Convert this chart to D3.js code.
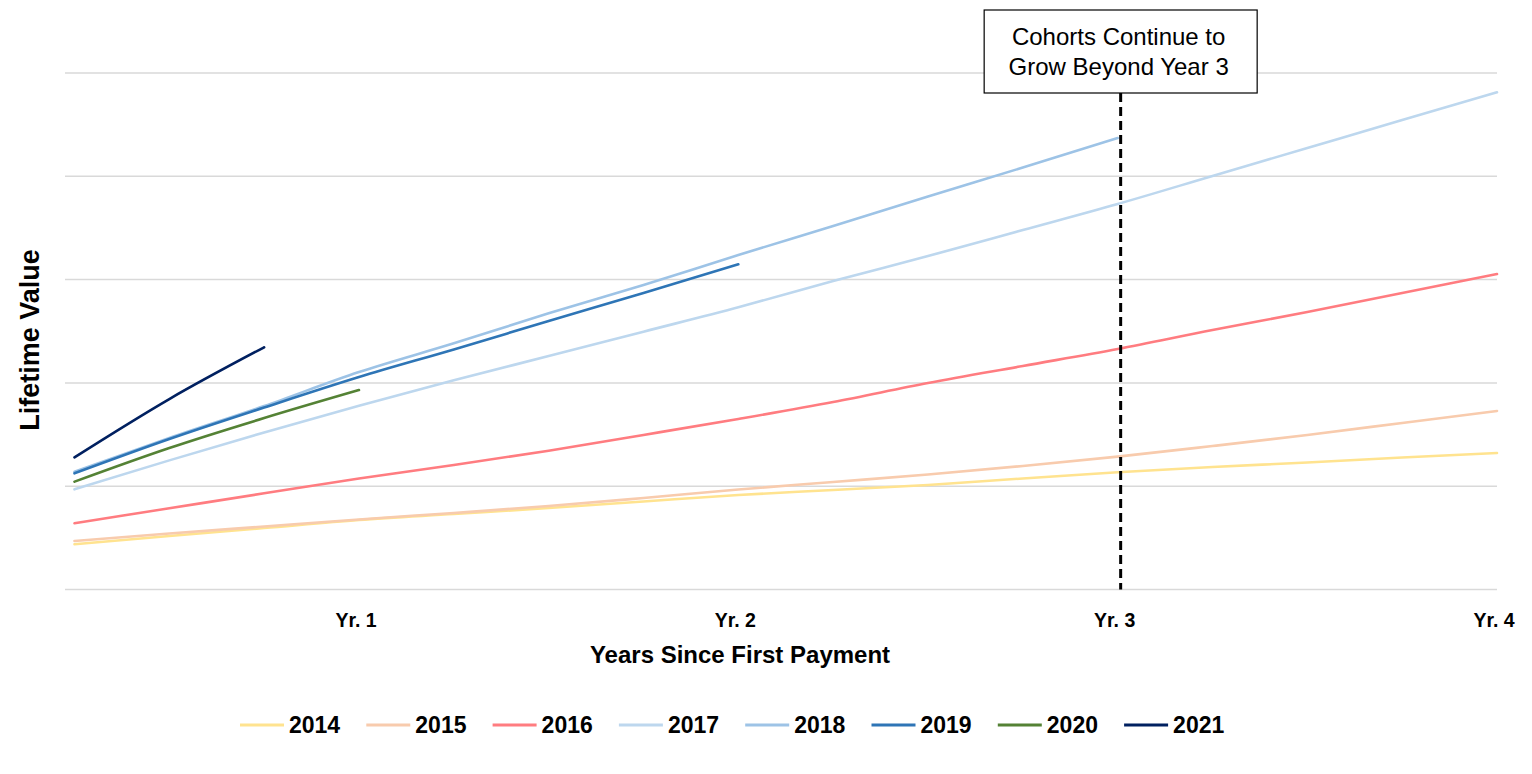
<!DOCTYPE html>
<html>
<head>
<meta charset="utf-8">
<script src="https://cdn.jsdelivr.net/npm/d3@7"></script>
<style>
  html, body { margin: 0; padding: 0; background: #fff; }
  svg { display: block; }
  text { font-family: "Liberation Sans", Arial, sans-serif; }
</style>
</head>
<body>
<div id="chart"></div>
<script>
// cohort lifetime value curves (months since first payment)
var months = [3, 6, 9, 12, 15, 18, 21, 24, 27, 30, 33, 36, 39, 42, 45, 48];
var cohorts = ["2014", "2015", "2016", "2017", "2018", "2019", "2020", "2021"];
var colors = ["#FFE38F", "#F8CBAD", "#FF7C80", "#BDD7EE", "#9DC3E6", "#2E75B6", "#548235", "#002060"];
var v2014 = [43.8, 51.8, 59.5, 67.3, 73.1, 78.9, 85.2, 91.5, 96.3, 101.2, 107.5, 113.5, 118.6, 122.9, 127.8, 132.1];
var v2015 = [47.0, 54.2, 61.0, 67.8, 74.1, 80.8, 88.6, 96.8, 104.1, 111.3, 119.6, 128.6, 138.9, 149.6, 161.2, 172.8];
var v2016 = [64.1, 78.6, 93.1, 107.5, 120.5, 134.4, 149.6, 165.1, 181.5, 199.9, 216.4, 232.8, 251.2, 268.6, 287.0, 305.4];
var v2017 = [97.0, 125.0, 152.0, 178.0, 202.5, 226.0, 249.6, 273.2, 298.6, 322.8, 348.0, 373.2, 400.3, 427.4, 454.5, 481.3];
var v2018 = [114.0, 146.7, 177.6, 210.5, 238.3, 267.4, 294.8, 323.8, 351.9, 380.4, 408.5, 437.1];
var v2019 = [112.5, 145.7, 176.2, 205.7, 232.4, 259.9, 287.0, 314.8];
var v2020 = [104.4, 137.0, 166.0, 193.1];
var v2021 = [128.0, 184.4, 234.5];
var yGrid = [0, 100, 200, 300, 400, 500];
var xTicks = [12, 24, 36, 48];
var xTickLabels = ["Yr. 1", "Yr. 2", "Yr. 3", "Yr. 4"];
var markerMonth = 36;
var noteLines = ["Cohorts Continue to", "Grow Beyond Year 3"];

(function () {
  "use strict";
  var W = 1532, H = 774;
  var series = [v2014, v2015, v2016, v2017, v2018, v2019, v2020, v2021].map(function (vals, i) {
    return { name: cohorts[i], color: colors[i], pts: vals.map(function (v, j) { return [months[j], v]; }) };
  });

  var svg = d3.select("#chart").append("svg").attr("width", W).attr("height", H);
  var x = d3.scaleLinear().domain([2.7, 48]).range([65, 1497]);
  var y = d3.scaleLinear().domain([0, 500]).range([589.5, 73]);

  // gridlines
  svg.append("g").selectAll("line").data(yGrid).enter().append("line")
    .attr("x1", x.range()[0]).attr("x2", x.range()[1])
    .attr("y1", function (d) { return y(d); }).attr("y2", function (d) { return y(d); })
    .attr("stroke", "#d9d9d9").attr("stroke-width", 1.5);

  // x tick labels (no tick marks)
  svg.append("g").selectAll("text").data(xTicks).enter().append("text")
    .attr("x", function (d) { return x(d); }).attr("dx", -3).attr("y", 627)
    .attr("text-anchor", "middle").attr("font-size", 19.5).attr("font-weight", "bold").attr("fill", "#000")
    .text(function (d, i) { return xTickLabels[i]; });

  // axis titles
  svg.append("text").attr("x", 740).attr("y", 663).attr("text-anchor", "middle")
    .attr("font-size", 24).attr("font-weight", "bold").attr("fill", "#000").text("Years Since First Payment");
  svg.append("text").attr("transform", "translate(39,340) rotate(-90)").attr("text-anchor", "middle")
    .attr("font-size", 27).attr("font-weight", "bold").attr("fill", "#000").text("Lifetime Value");

  // cohort lines
  var line = d3.line().x(function (d) { return x(d[0]); }).y(function (d) { return y(d[1]); }).curve(d3.curveMonotoneX);
  svg.append("g").selectAll("path").data(series).enter().append("path")
    .attr("d", function (d) { return line(d.pts); })
    .attr("fill", "none").attr("stroke", function (d) { return d.color; })
    .attr("stroke-width", 2.6).attr("stroke-linecap", "round");

  // year-3 marker + note box
  var mx = x(markerMonth) + 3;
  var boxW = 273, boxH = 83, boxTop = 10;
  svg.append("line").attr("x1", mx).attr("x2", mx).attr("y1", boxTop + boxH).attr("y2", y(0))
    .attr("stroke", "#000").attr("stroke-width", 3).attr("stroke-dasharray", "9,5");
  svg.append("rect").attr("x", mx - boxW / 2).attr("y", boxTop).attr("width", boxW).attr("height", boxH)
    .attr("fill", "#fff").attr("stroke", "#000").attr("stroke-width", 1.2);
  svg.append("g").selectAll("text").data(noteLines).enter().append("text")
    .attr("x", mx - 2).attr("y", function (d, i) { return 45 + i * 30; })
    .attr("text-anchor", "middle").attr("font-family", "Roboto, sans-serif").attr("font-size", 24).attr("fill", "#000")
    .text(function (d) { return d; });

  // legend
  var lg = svg.append("g").selectAll("g").data(series).enter().append("g")
    .attr("transform", function (d, i) { return "translate(" + (240 + i * 126.3) + ",725)"; });
  lg.append("line").attr("x1", 0).attr("x2", 44).attr("y1", 0).attr("y2", 0)
    .attr("stroke", function (d) { return d.color; }).attr("stroke-width", 3);
  lg.append("text").attr("x", 49).attr("y", 8.3).attr("font-size", 23).attr("font-weight", "bold").attr("fill", "#000")
    .text(function (d) { return d.name; });
})();
</script>
</body>
</html>
